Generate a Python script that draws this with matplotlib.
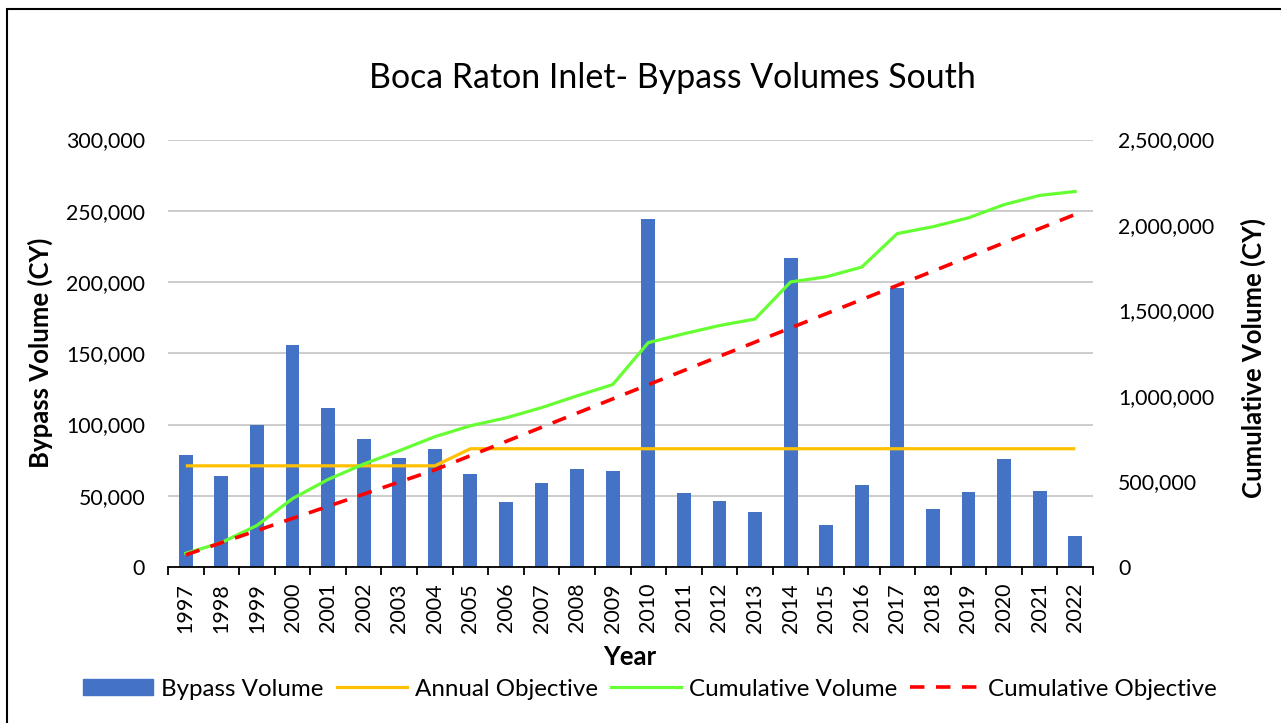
import matplotlib
matplotlib.use("Agg")
import matplotlib.pyplot as plt
import numpy as np
from matplotlib.ticker import FuncFormatter, MultipleLocator, FixedLocator
from matplotlib.patches import Rectangle
from matplotlib.lines import Line2D

plt.rcParams['font.family'] = ['Lato', 'DejaVu Sans']

# data
years = [1997, 1998, 1999, 2000, 2001, 2002, 2003, 2004, 2005, 2006, 2007, 2008, 2009,
         2010, 2011, 2012, 2013, 2014, 2015, 2016, 2017, 2018, 2019, 2020, 2021, 2022]
bypass_volume = [78400, 63900, 99900, 155800, 111800, 90000, 76500, 83000, 65000, 45800,
                 58700, 68500, 67600, 244000, 51900, 46300, 38800, 216600, 29700, 57800,
                 196000, 40500, 52400, 75600, 53300, 21800]
annual_objective = [71000, 71000, 71000, 71000, 71000, 71000, 71000, 71000, 83000, 83000,
                    83000, 83000, 83000, 83000, 83000, 83000, 83000, 83000, 83000, 83000,
                    83000, 83000, 83000, 83000, 83000, 83000]
cumulative_volume = [80000, 143000, 243000, 400000, 512000, 602000, 680000, 762000, 826000,
                     872000, 932000, 1001000, 1067000, 1312000, 1364000, 1412000, 1450000,
                     1667000, 1697000, 1754000, 1950000, 1990000, 2042000, 2119000, 2173000,
                     2196000]
cumulative_objective = [71000, 142000, 213000, 284000, 355000, 426000, 497000, 568000,
                        651000, 734000, 817000, 900000, 983000, 1066000, 1149000, 1232000,
                        1315000, 1398000, 1481000, 1564000, 1647000, 1730000, 1813000,
                        1896000, 1979000, 2062000]

W, H = 1281, 723
fig = plt.figure(figsize=(W / 100, H / 100), dpi=100)
ax = fig.add_axes([168 / W, 1 - 567 / H, (1093 - 168) / W, (567 - 139.5) / H])
ax2 = ax.twinx()

x = np.arange(len(years))
bar_col = '#4472C4'
orange = '#FFC000'
green = '#66FF33'
red = '#FF0000'
grid_col = '#BFBFBF'

ax.set_zorder(1)
ax.patch.set_visible(False)
ax2.set_zorder(0)

ax.bar(x, bypass_volume, width=0.39, color=bar_col, zorder=2)
ax.plot(x, annual_objective, color=orange, lw=2.3, zorder=3, solid_capstyle='butt')
ax.plot(x, np.array(cumulative_volume) * 300000 / 2500000, color=green, lw=2.3, zorder=4)
ax.plot(x, np.array(cumulative_objective) * 300000 / 2500000, color=red, lw=2.6,
        dashes=(4, 3.2), zorder=5)

ax.set_xlim(-0.5, len(years) - 0.5)
ax.set_ylim(0, 300000)
ax2.set_ylim(0, 2500000)

ax.yaxis.set_major_locator(MultipleLocator(50000))
ax2.yaxis.set_major_locator(MultipleLocator(500000))
fmt = FuncFormatter(lambda v, p: f'{int(v):,}')
ax.yaxis.set_major_formatter(fmt)
ax2.yaxis.set_major_formatter(fmt)
ax.grid(axis='y', color=grid_col, lw=1.1, zorder=0)
ax.set_axisbelow(True)

for a in (ax, ax2):
    for s in ('top', 'right', 'left', 'bottom'):
        a.spines[s].set_visible(False)
ax.spines['bottom'].set_visible(True)
ax.spines['bottom'].set_color('black')
ax.spines['bottom'].set_linewidth(1.3)

ax.tick_params(axis='y', length=0, pad=16.5, labelsize=15.3)
ax2.tick_params(axis='y', length=0, pad=18, labelsize=15.3)

# category boundary ticks, labels at centres
ax.xaxis.set_major_locator(FixedLocator(np.arange(-0.5, len(years), 1.0)))
ax.xaxis.set_major_formatter(FuncFormatter(lambda v, p: ''))
ax.xaxis.set_minor_locator(FixedLocator(x))
ax.set_xticklabels([str(y) for y in years], minor=True, rotation=90)
ax.tick_params(axis='x', which='major', length=6, width=1.3, color='black')
ax.tick_params(axis='x', which='minor', length=0, pad=11.5, labelsize=15.5)

fig.text(672 / W, 1 - 78 / H, 'Boca Raton Inlet- Bypass Volumes South', ha='center',
         va='center', fontsize=24.4)
fig.text(40 / W, 1 - 353 / H, 'Bypass Volume (CY)', rotation=90, ha='center', va='center',
         fontsize=18.5, fontweight='bold')
fig.text(1253 / W, 1 - 358 / H, 'Cumulative Volume (CY)', rotation=90, ha='center',
         va='center', fontsize=18.5, fontweight='bold')
fig.text(630 / W, 1 - 657 / H, 'Year', ha='center', va='center', fontsize=18.5,
         fontweight='bold')

handles = [Rectangle((0, 0), 1, 1, color=bar_col),
           Line2D([], [], color=orange, lw=2.3),
           Line2D([], [], color=green, lw=2.3),
           Line2D([], [], color=red, lw=2.6, dashes=(4, 3.2))]
labels = ['Bypass Volume', 'Annual Objective', 'Cumulative Volume', 'Cumulative Objective']
fig.legend(handles, labels, loc='center', bbox_to_anchor=(650 / W, 1 - 689 / H), ncol=4,
           frameon=False, fontsize=17.4, handlelength=2.9, handleheight=0.65,
           handletextpad=0.33, columnspacing=0.54)

# outer chart border (cropped on right and bottom)
fig.add_artist(Rectangle((6.5 / W, -0.1), 1.2, 1 - 9.5 / H + 0.1, transform=fig.transFigure,
                         fill=False, ec='black', lw=1.5))

fig.savefig('out.png', dpi=100)
